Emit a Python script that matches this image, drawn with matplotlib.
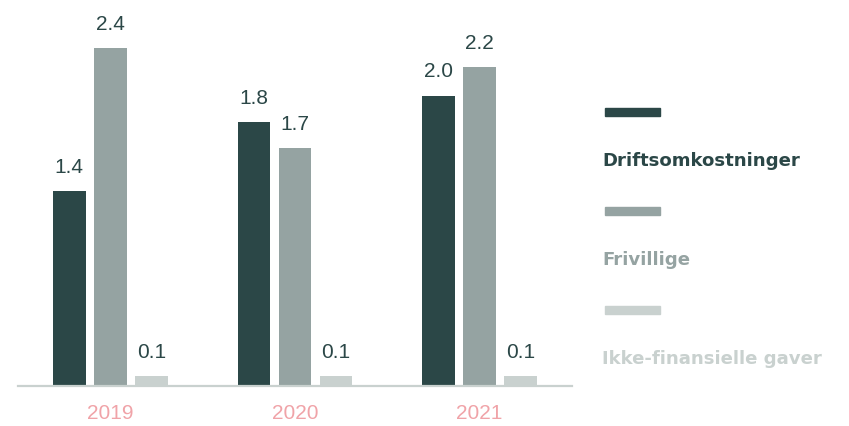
import numpy as np
import matplotlib.pyplot as plt
from matplotlib.patches import Rectangle

# =============================================================================
# Data
# =============================================================================
years = ['2019', '2020', '2021']
series = ['Driftsomkostninger', 'Frivillige', 'Ikke-finansielle gaver']
# bar heights as drawn
drift = [1.38, 1.87, 2.06]
frivillige = [2.40, 1.69, 2.26]
gaver = [0.07, 0.07, 0.07]
# printed labels
drift_lbl = ['1.4', '1.8', '2.0']
friv_lbl = ['2.4', '1.7', '2.2']
gaver_lbl = ['0.1', '0.1', '0.1']

colors = ['#2b4747', '#95a3a2', '#c9d1cf']
num_color = '#2b4747'
year_color = '#f0a3a8'

# =============================================================================
# Figure
# =============================================================================
W, H = 849, 426
fig = plt.figure(figsize=(W / 100, H / 100), dpi=100)
# axes placed in pixel terms: x 18..572, baseline at y=386
ax = fig.add_axes([18 / W, (H - 386) / H, (572 - 18) / W, 2.6 * 141 / H])
ax.set_xlim(-0.5, 2.5)
ax.set_ylim(0, 2.6)

x = np.arange(len(years))
width = 0.178
step = 0.222
for i, (vals, lbls) in enumerate(zip([drift, frivillige, gaver],
                                     [drift_lbl, friv_lbl, gaver_lbl])):
    xs = x + (i - 1) * step
    ax.bar(xs, vals, width=width, color=colors[i], zorder=2)
    for xi, v, t in zip(xs, vals, lbls):
        ax.annotate(t, (xi, v), xytext=(0, 13), textcoords='offset points',
                    ha='center', va='baseline', fontsize=15,
                    family='Liberation Sans', color=num_color)

for s in ['top', 'right', 'left']:
    ax.spines[s].set_visible(False)
ax.spines['bottom'].set_color('#c9d1cf')
ax.spines['bottom'].set_linewidth(1.6)
ax.set_yticks([])
ax.set_xticks(x)
ax.set_xticklabels(years, fontsize=15, family='Liberation Sans', color=year_color)
ax.tick_params(axis='x', length=0, pad=13)

# =============================================================================
# Legend drawn on the right
# =============================================================================
leg_y = [112, 211, 310]
for c, name, yy in zip(colors, series, leg_y):
    fig.patches.append(Rectangle((605 / W, (H - yy - 4) / H), 55 / W, 8 / H,
                                 transform=fig.transFigure, color=c))
    fig.text(602 / W, (H - yy - 49) / H, name, ha='left', va='center',
             fontsize=13.1, fontweight='bold', family='DejaVu Sans', color=c)

fig.savefig('out.png', dpi=100)
